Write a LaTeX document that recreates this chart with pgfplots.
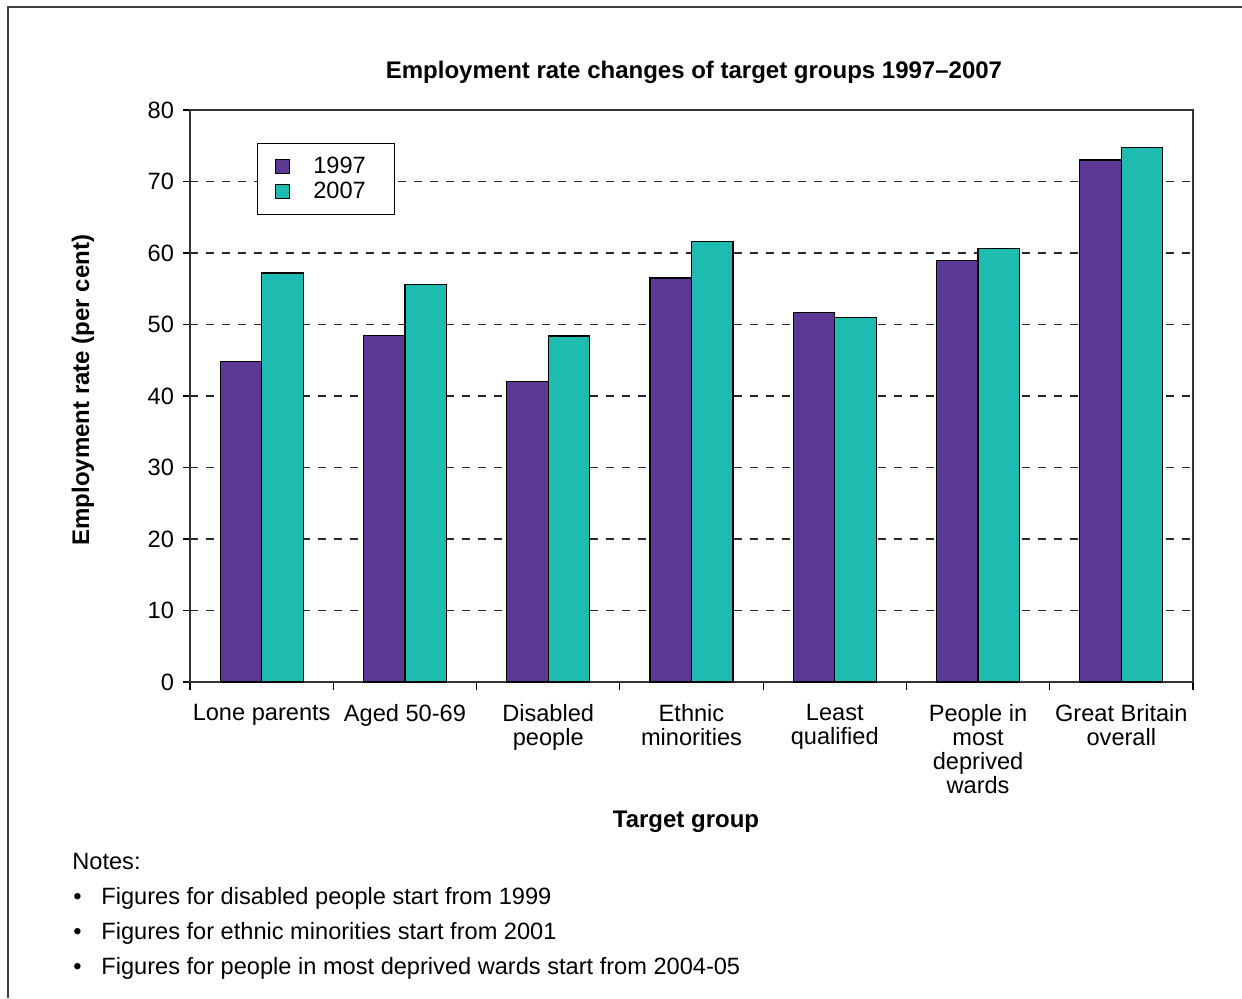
\documentclass[border=0pt]{standalone}
\usepackage{fontspec}
\setmainfont{Liberation Sans}
\usepackage{pgfplots}
\pgfplotsset{compat=1.18}
\definecolor{c97}{RGB}{92,57,148}
\definecolor{c07}{RGB}{30,188,176}
\begin{document}
\begin{tikzpicture}
\useasboundingbox (0,0) rectangle (621pt,499pt);
\draw[black!75, line width=0.8pt] (4pt,0) -- (4pt,495.5pt) -- (621pt,495.5pt);
\begin{axis}[
  at={(95pt,158pt)}, anchor=south west,
  width=501.5pt, height=286pt, scale only axis,
  xmin=-0.5, xmax=6.5, ymin=0, ymax=80,
  ybar=0pt, bar width=20.75pt,
  ytick={0,10,...,80},
  xtick={0,...,6},
  xticklabels={Lone parents, Aged 50-69, {Disabled\\people}, {Ethnic\\minorities}, {Least\\qualified}, {People in\\most\\deprived\\wards}, {Great Britain\\overall}},
  minor xtick={-0.5,0.5,...,6.5},
  xtick pos=bottom, ytick pos=left, tick align=outside,
  major x tick style={draw=none},
  minor tick length=4pt, major tick length=3.5pt,
  tick style={black, line width=0.6pt},
  axis line style={black!80, line width=0.6pt},
  ymajorgrids, grid style={black!85, line width=0.6pt, dash pattern=on 4pt off 4pt},
  /pgf/number format/assume math mode=true,
  tick label style={font=\fontsize{11.8}{12}\selectfont},
  xticklabel style={align=center, yshift=-4pt},
  yticklabel style={xshift=-1pt},
  title={\bfseries Employment rate changes of target groups 1997–2007},
  title style={at={(axis description cs:0.5025,1.034)}, anchor=base, font=\fontsize{12}{13}\selectfont},
  xlabel={\bfseries Target group},
  xlabel style={at={(axis description cs:0.4945,-0.255)}, anchor=base, font=\fontsize{12}{13}\selectfont},
  ylabel={\bfseries Employment rate (per cent)},
  ylabel style={at={(axis description cs:-0.1067,0.51)}, anchor=center, rotate=0, font=\fontsize{12}{13}\selectfont},
  legend style={at={(rel axis cs:0.0668,0.9423)}, anchor=north west, draw=black, fill=white, line width=0.6pt,
    font=\fontsize{11.8}{12}\selectfont, inner xsep=8.75pt, inner ysep=4.5pt, row sep=-1pt,
    /tikz/every odd column/.append style={column sep=9.5pt}},
  legend cell align=left,
]
\addplot[fill=c97, draw=black, line width=0.6pt,
  legend image code/.code={\draw[fill=c97,draw=black,line width=0.6pt] (0pt,-3.5pt) rectangle (7pt,3.5pt);}]
  coordinates {(0,44.8) (1,48.5) (2,42.0) (3,56.5) (4,51.7) (5,59.0) (6,73.0)};
\addplot[fill=c07, draw=black, line width=0.6pt,
  legend image code/.code={\draw[fill=c07,draw=black,line width=0.6pt] (0pt,-3.5pt) rectangle (7pt,3.5pt);}]
  coordinates {(0,57.2) (1,55.6) (2,48.4) (3,61.6) (4,51.0) (5,60.6) (6,74.7)};
\legend{1997\hspace*{3.5pt}, 2007\hspace*{3.5pt}}
\end{axis}
\begin{scope}[font=\fontsize{11.8}{12}\selectfont]
\node[anchor=base west, inner sep=0pt] at (36pt,64.5pt) {Notes:};
\node[anchor=base west, inner sep=0pt] at (36.5pt,47pt) {•};
\node[anchor=base west, inner sep=0pt] at (50.5pt,47pt) {Figures for disabled people start from 1999};
\node[anchor=base west, inner sep=0pt] at (36.5pt,29.5pt) {•};
\node[anchor=base west, inner sep=0pt] at (50.5pt,29.5pt) {Figures for ethnic minorities start from 2001};
\node[anchor=base west, inner sep=0pt] at (36.5pt,12pt) {•};
\node[anchor=base west, inner sep=0pt] at (50.5pt,12pt) {Figures for people in most deprived wards start from 2004-05};
\end{scope}
\end{tikzpicture}
\end{document}
